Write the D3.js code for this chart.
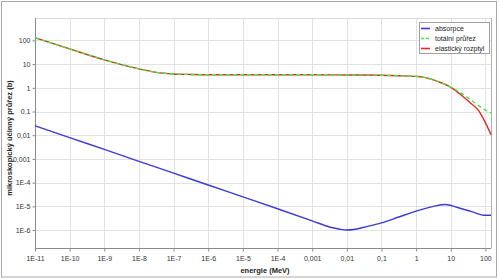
<!DOCTYPE html>
<html>
<head>
<meta charset="utf-8">
<script src="https://cdn.jsdelivr.net/npm/d3@7"></script>
<style>
  body { margin: 0; background: #fff; }
  text { font-family: "Liberation Sans", Arial, sans-serif; }
</style>
</head>
<body>
<svg id="chart" width="500" height="279"></svg>
<script>
// tick values and labels
var xTicks = [1e-11, 1e-10, 1e-9, 1e-8, 1e-7, 1e-6, 1e-5, 1e-4, 1e-3, 1e-2, 1e-1, 1, 10, 100];
var xTickLabels = ["1E-11", "1E-10", "1E-9", "1E-8", "1E-7", "1E-6", "1E-5", "1E-4", "0,001", "0,01", "0,1", "1", "10", "100"];
var yTicks = [100, 10, 1, 0.1, 0.01, 0.001, 1e-4, 1e-5, 1e-6];
var yTickLabels = ["100", "10", "1", "0,1", "0,01", "0,001", "1E-4", "1E-5", "1E-6"];

// series (energy in MeV, cross section in b)
var absEnergy = [1e-11, 1e-10, 1e-9, 1e-8, 1e-7, 1e-6, 1e-5, 1e-4, 1e-3, 3.16e-3, 6.31e-3, 0.01, 0.0158, 0.0316, 0.1, 0.316, 1, 3.16, 7, 15.8, 39.8, 100, 145];
var absValues = [0.0251, 0.00794, 0.00251, 7.94e-4, 2.51e-4, 7.94e-5, 2.51e-5, 7.94e-6, 2.45e-6, 1.35e-6, 1.08e-6, 1.0e-6, 1.05e-6, 1.32e-6, 2.0e-6, 3.55e-6, 6.3e-6, 1.0e-5, 1.2e-5, 8.9e-6, 6.0e-6, 4.2e-6, 4.2e-6];

var totEnergy = [1e-11, 1e-10, 1e-9, 1e-8, 3.16e-8, 1e-7, 3.16e-7, 1e-6, 1e-5, 1e-4, 1e-3, 0.01, 0.1, 0.316, 1, 1.58, 3.98, 10.7, 20, 35.5, 63, 145];
var totValues = [130, 43.7, 15.1, 6.3, 4.5, 3.85, 3.65, 3.55, 3.55, 3.55, 3.55, 3.47, 3.39, 3.24, 3.02, 2.82, 1.9, 1.0, 0.6, 0.33, 0.178, 0.085];

var elaEnergy = [1e-11, 1e-10, 1e-9, 1e-8, 3.16e-8, 1e-7, 3.16e-7, 1e-6, 1e-5, 1e-4, 1e-3, 0.01, 0.1, 0.316, 1, 1.58, 3.98, 10.7, 20, 35.5, 63, 79, 100, 145];
var elaValues = [130, 43.7, 15.1, 6.3, 4.5, 3.85, 3.65, 3.55, 3.55, 3.55, 3.55, 3.47, 3.39, 3.24, 3.02, 2.82, 1.9, 1.0, 0.5, 0.24, 0.112, 0.066, 0.034, 0.0105];

var series = [
    { name: "elastický rozptyl", color: "#e8262a", dash: null, e: elaEnergy, v: elaValues },
    { name: "totální průřez", color: "#3cf03c", dash: "4,3", e: totEnergy, v: totValues },
    { name: "absorpce", color: "#3b3bd8", dash: null, e: absEnergy, v: absValues }
];
var legendOrder = [2, 1, 0];

var svg = d3.select("#chart");
var m = { left: 35, right: 491, top: 18, bottom: 248 };

// outer frame
svg.append("rect").attr("x", 1.5).attr("y", 1.5).attr("width", 495).attr("height", 275.5)
    .attr("fill", "#fff").attr("stroke", "#a8a8a8");

var x = d3.scaleLog().domain([1e-11, 145]).range([m.left, m.right]);
var y = d3.scaleLog().domain([1.75e-7, 880]).range([m.bottom, m.top]);

// grid
var grid = svg.append("g").attr("stroke", "#e2e2e2").attr("stroke-width", 1);
grid.selectAll(".gx").data(xTicks).enter().append("line")
    .attr("x1", d => Math.round(x(d)) + 0.5).attr("x2", d => Math.round(x(d)) + 0.5)
    .attr("y1", m.top).attr("y2", m.bottom);
grid.selectAll(".gy").data(yTicks).enter().append("line")
    .attr("y1", d => Math.round(y(d)) + 0.5).attr("y2", d => Math.round(y(d)) + 0.5)
    .attr("x1", m.left).attr("x2", m.right);
svg.append("rect").attr("x", m.left + 0.5).attr("y", m.top + 0.5)
    .attr("width", m.right - m.left).attr("height", m.bottom - m.top)
    .attr("fill", "none").attr("stroke", "#dadada");

// axes
var xAxis = d3.axisBottom(x).tickValues(xTicks).tickSize(3).tickFormat((d, i) => xTickLabels[i]);
var yAxis = d3.axisLeft(y).tickValues(yTicks).tickSize(3).tickFormat((d, i) => yTickLabels[i]);

var gx = svg.append("g").attr("transform", "translate(0," + (m.bottom + 0.5) + ")").call(xAxis);
var gy = svg.append("g").attr("transform", "translate(" + (m.left + 0.5) + ",0)").call(yAxis);
[gx, gy].forEach(g => {
    g.select(".domain").remove();
    g.selectAll(".tick line").attr("stroke", "#8a8a8a");
    g.selectAll(".tick text").attr("fill", "#333").attr("font-size", "7px")
        .attr("font-family", "'Liberation Sans', Arial, sans-serif");
});
svg.append("line").attr("x1", m.left).attr("x2", m.right)
    .attr("y1", m.bottom + 0.5).attr("y2", m.bottom + 0.5).attr("stroke", "#8a8a8a");
svg.append("line").attr("x1", m.left + 0.5).attr("x2", m.left + 0.5)
    .attr("y1", m.top).attr("y2", m.bottom + 3).attr("stroke", "#8a8a8a");
svg.append("line").attr("x1", m.right + 0.5).attr("x2", m.right + 0.5)
    .attr("y1", m.top).attr("y2", m.bottom).attr("stroke", "#b0b0b0");
gx.selectAll(".tick text").attr("dy", "0.95em");
gy.selectAll(".tick text").attr("x", -5);

// curves
var line = d3.line().curve(d3.curveMonotoneX).x(d => x(d[0])).y(d => y(d[1]));
svg.append("g").selectAll("path").data(series).enter().append("path")
    .attr("d", s => line(s.e.map((e, i) => [e, s.v[i]])))
    .attr("fill", "none")
    .attr("stroke", s => s.color)
    .attr("stroke-width", 1.4)
    .attr("stroke-dasharray", s => s.dash);

// axis titles
svg.append("text").attr("x", (m.left + m.right) / 2 + 2).attr("y", 273)
    .attr("text-anchor", "middle").attr("font-size", "7.5px").attr("font-weight", "bold")
    .attr("fill", "#222").text("energie (MeV)");
svg.append("text").attr("transform", "translate(12,138) rotate(-90)")
    .attr("text-anchor", "middle").attr("font-size", "7.5px").attr("font-weight", "bold")
    .attr("fill", "#222").text("mikroskopický účinný průřez (b)");

// legend
var lg = svg.append("g").attr("transform", "translate(419,22)");
lg.append("rect").attr("x", 0.5).attr("y", 0.5).attr("width", 70).attr("height", 31)
    .attr("fill", "#fff").attr("stroke", "#a0a0a0");
var items = lg.selectAll(".item").data(legendOrder.map(i => series[i])).enter().append("g")
    .attr("transform", (d, i) => "translate(0," + (6.5 + i * 10) + ")");
items.append("line").attr("x1", 2).attr("x2", 11).attr("y1", 0).attr("y2", 0)
    .attr("stroke", d => d.color).attr("stroke-width", 1.6)
    .attr("stroke-dasharray", d => d.dash ? "3,2" : null);
items.append("text").attr("x", 16).attr("y", 0).attr("dy", "0.35em")
    .attr("font-size", "7px").attr("fill", "#222").text(d => d.name);
</script>
</body>
</html>
